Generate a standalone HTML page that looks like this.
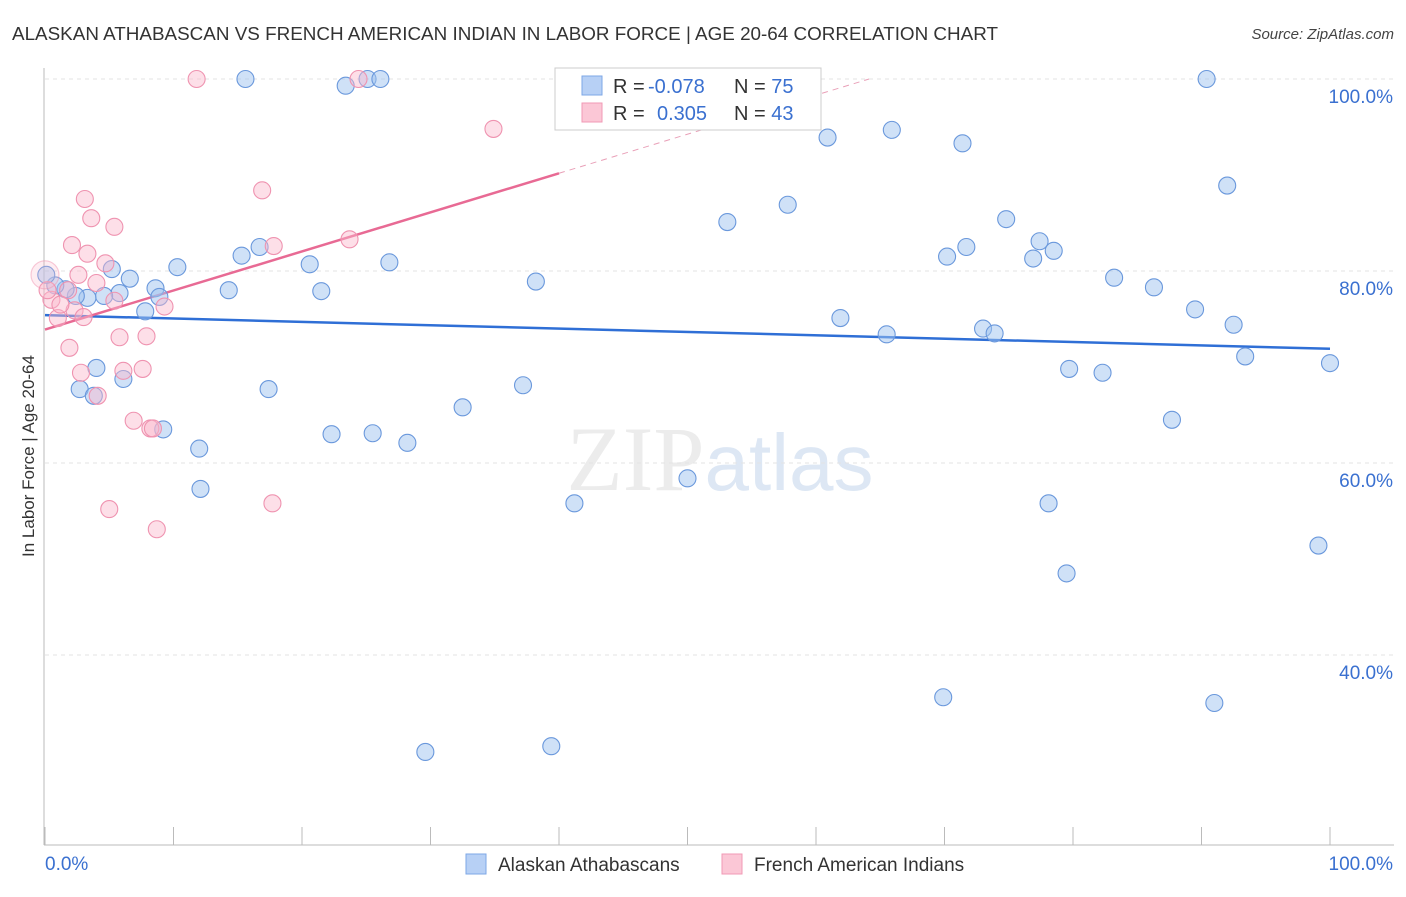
<!DOCTYPE html>
<html><head><meta charset="utf-8"><style>
body{margin:0;background:#fff;font-family:"Liberation Sans",sans-serif;}
</style></head><body>
<svg id="chart" width="1406" height="892" viewBox="0 0 1406 892" xmlns="http://www.w3.org/2000/svg">
<text x="12" y="40" font-size="18" fill="#333" textLength="986" lengthAdjust="spacingAndGlyphs">ALASKAN ATHABASCAN VS FRENCH AMERICAN INDIAN IN LABOR FORCE | AGE 20-64 CORRELATION CHART</text>
<text x="1394" y="39" font-size="15" fill="#444" font-style="italic" text-anchor="end">Source: ZipAtlas.com</text>
<text x="720" y="490" font-size="92" text-anchor="middle" fill="#ececec" font-family="Liberation Serif,serif">ZIP<tspan fill="#dde7f4" font-family="Liberation Sans,sans-serif" font-size="80">atlas</tspan></text>
<text transform="translate(34,456) rotate(-90)" font-size="17" fill="#333" text-anchor="middle">In Labor Force | Age 20-64</text>
<g id="grid"></g><g id="axes"></g><g id="lines"></g><g id="pts"></g>
<g>
<rect x="555" y="68" width="266" height="62" fill="#fff" stroke="#ccc"/>
<rect x="582" y="76" width="20" height="19" fill="#b7d0f5" stroke="#7ea7e6"/>
<rect x="582" y="103" width="20" height="19" fill="#fbc7d6" stroke="#f09ab5"/>
<text x="613" y="93" font-size="20" fill="#333">R = <tspan x="648" fill="#3a70d0">-0.078</tspan><tspan x="734">N = </tspan><tspan fill="#3a70d0">75</tspan></text>
<text x="613" y="120" font-size="20" fill="#333">R = <tspan x="657" fill="#3a70d0">0.305</tspan><tspan x="734">N = </tspan><tspan fill="#3a70d0">43</tspan></text>
</g>
<g>
<rect x="466" y="854" width="20" height="20" fill="#b7d0f5" stroke="#7ea7e6"/>
<text x="498" y="871" font-size="19" fill="#333">Alaskan Athabascans</text>
<rect x="722" y="854" width="20" height="20" fill="#fbc7d6" stroke="#f09ab5"/>
<text x="754" y="871" font-size="19" fill="#333">French American Indians</text>
</g>
</svg>
<script>
const yTicks=[40,60,80,100];
const xTickLabels=["0.0%","100.0%"];
const blueX=[15.6,23.4,25.1,26.1,90.4,60.9,65.9,71.4,92.0,53.1,57.8,74.8,70.2,71.7,77.4,78.5,76.9,83.2,86.3,89.5,92.5,61.9,65.5,73.0,73.9,93.4,100,79.7,82.3,87.7,78.1,79.5,99.1,69.9,91.0,29.6,39.4,50.0,41.2,37.2,32.5,28.2,25.5,22.3,17.4,12.1,12.0,9.2,6.1,4.0,2.7,3.8,5.2,6.6,10.3,15.3,16.7,14.3,20.6,21.5,26.8,38.2,8.6,8.9,7.8,5.8,4.6,3.3,2.4,1.6,0.8,0.1];
const blueY=[100,99.3,100,100,100,93.9,94.7,93.3,88.9,85.1,86.9,85.4,81.5,82.5,83.1,82.1,81.3,79.3,78.3,76.0,74.4,75.1,73.4,74.0,73.5,71.1,70.4,69.8,69.4,64.5,55.8,48.5,51.4,35.6,35.0,29.9,30.5,58.4,55.8,68.1,65.8,62.1,63.1,63.0,67.7,57.3,61.5,63.5,68.75,69.9,67.7,67.0,80.2,79.2,80.4,81.6,82.5,78.0,80.7,77.9,80.9,78.9,78.2,77.3,75.8,77.7,77.4,77.2,77.4,78.1,78.5,79.6];
const pinkX=[11.8,24.4,34.9,16.9,3.1,3.6,5.4,2.1,3.3,4.7,2.6,17.8,23.7,4.0,1.8,5.4,9.3,2.3,3.0,1.0,0.5,1.2,0.2,5.8,7.9,1.9,2.8,6.1,7.6,4.1,6.9,8.2,8.4,5.0,17.7,8.7,0];
const pinkY=[100,100,94.8,88.4,87.5,85.5,84.6,82.7,81.8,80.8,79.6,82.6,83.3,78.75,78.0,76.9,76.3,75.9,75.2,75.1,77.0,76.5,78.0,73.1,73.2,72.0,69.4,69.6,69.8,67.0,64.4,63.6,63.6,55.2,55.8,53.1,79.6];
const blueTrend=[75.4,71.9];
const pinkTrend=[73.9,0.407];
const NS="http://www.w3.org/2000/svg";
const X=v=>45+v*12.85, Y=v=>79+(100-v)*9.6;
function mk(t,a,p){const e=document.createElementNS(NS,t);for(const k in a)e.setAttribute(k,a[k]);p.appendChild(e);return e;}
const g=document.getElementById('grid'),ax=document.getElementById('axes'),ln=document.getElementById('lines'),pt=document.getElementById('pts');
yTicks.forEach(v=>{
 const l=mk('line',{x1:45,x2:1394,y1:Y(v),y2:Y(v),stroke:'#e3e3e3','stroke-dasharray':'4,4'},g);
 
 
 const t=mk('text',{x:1393,y:Y(v)+24,'font-size':19,fill:'#3a70d0','text-anchor':'end'},g);t.textContent=v.toFixed(1)+'%';
 
 
});
mk('line',{x1:44,x2:44,y1:68,y2:845,stroke:'#bbb'},ax);
mk('line',{x1:44,x2:1394,y1:845,y2:845,stroke:'#bbb'},ax);
for(let i=0;i<=10;i++){mk('line',{x1:X(i*10),x2:X(i*10),y1:827,y2:845,stroke:'#bbb'},ax);}
const t0=mk('text',{x:45,y:870,'font-size':19,fill:'#3a70d0'},ax);t0.textContent=xTickLabels[0];


const t1=mk('text',{x:1393,y:870,'font-size':19,fill:'#3a70d0','text-anchor':'end'},ax);t1.textContent=xTickLabels[1];


blueX.forEach((x,i)=>{const c=mk('circle',{cx:X(x),cy:Y(blueY[i]),r:8.5,fill:'rgba(160,196,240,0.5)',stroke:'#6a98dc','stroke-width':1.1},pt);
 
 });
pinkX.forEach((x,i)=>{const big=i==pinkX.length-1;const c=mk('circle',{cx:X(x),cy:Y(pinkY[i]),r:big?14:8.5,fill:big?'rgba(250,185,205,0.25)':'rgba(250,185,205,0.45)',stroke:big?'rgba(239,147,176,0.5)':'#ef93b0','stroke-width':1.1},pt);
 
 });
const bl=mk('line',{x1:X(0),x2:X(100),y1:Y(blueTrend[0]),y2:Y(blueTrend[1]),stroke:'#2f6fd6','stroke-width':2.5},ln);


const pe=(100-pinkTrend[0])/pinkTrend[1];
const pl=mk('line',{x1:X(0),x2:X(40),y1:Y(pinkTrend[0]),y2:Y(pinkTrend[0]+40*pinkTrend[1]),stroke:'#e86a94','stroke-width':2.5},ln);


const pd=mk('line',{x1:X(40),x2:X(pe),y1:Y(pinkTrend[0]+40*pinkTrend[1]),y2:Y(100),stroke:'#e9a0b8','stroke-width':1,'stroke-dasharray':'6,5'},ln);


</script>
</body></html>
